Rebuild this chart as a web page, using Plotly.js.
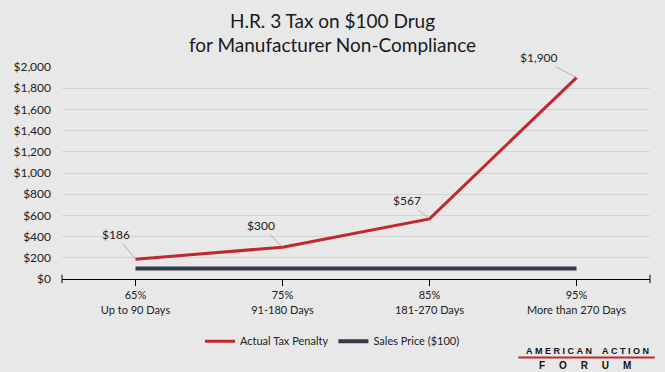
<!DOCTYPE html>
<html>
<head>
<meta charset="utf-8">
<script src="https://cdn.plot.ly/plotly-3.0.1.min.js"></script>
<style>html,body{margin:0;padding:0;background:#e8e8e8;}</style>
</head>
<body>
<div id="chart" style="width:665px;height:372px;"></div>
<script>
const categories = ["65%<br>Up to 90 Days", "75%<br>91-180 Days", "85%<br>181-270 Days", "95%<br>More than 270 Days"];
const taxPenalty = [186, 300, 567, 1900];
const salesPrice = [100, 100, 100, 100];
const penaltyLabels = ["$186", "$300", "$567", "$1,900"];
const labelOffsets = [[-20, -25], [-22, -22], [-23, -18], [-38, -20]];

const fontFam = "Lato, 'Open Sans', sans-serif";

const traces = [
  {x: categories, y: taxPenalty, type: "scatter", mode: "lines", name: "Actual Tax Penalty",
   line: {color: "#c1272d", width: 3}},
  {x: categories, y: salesPrice, type: "scatter", mode: "lines", name: "Sales Price ($100)",
   line: {color: "#353b4a", width: 4}}
];

const annotations = penaltyLabels.map((t, i) => ({
  x: categories[i], y: taxPenalty[i], xref: "x", yref: "y",
  text: t, showarrow: true, arrowhead: 0, arrowwidth: 0.7, arrowcolor: "#9a9a9a",
  ax: labelOffsets[i][0], ay: labelOffsets[i][1],
  font: {family: fontFam, size: 12, color: "#222"}
}));

annotations.push(
  {xref: "paper", yref: "paper", x: 0.893, y: -0.34, xanchor: "center", yanchor: "middle",
   text: "<b>A&nbsp;M&nbsp;E&nbsp;R&nbsp;I&nbsp;C&nbsp;A&nbsp;N&nbsp;&nbsp;&nbsp;&nbsp;A&nbsp;C&nbsp;T&nbsp;I&nbsp;O&nbsp;N</b>",
   showarrow: false, font: {family: "Liberation Sans, Arial, sans-serif", size: 9, color: "#111"}},
  {xref: "paper", yref: "paper", x: 0.889, y: -0.408, xanchor: "center", yanchor: "middle",
   text: "<b>F&nbsp;&nbsp;&nbsp;&nbsp;&nbsp;O&nbsp;&nbsp;&nbsp;&nbsp;&nbsp;R&nbsp;&nbsp;&nbsp;&nbsp;&nbsp;U&nbsp;&nbsp;&nbsp;&nbsp;&nbsp;M</b>",
   showarrow: false, font: {family: "Liberation Sans, Arial, sans-serif", size: 10, color: "#111"}}
);

const layout = {
  width: 665, height: 372,
  paper_bgcolor: "#e8e8e8", plot_bgcolor: "#e8e8e8",
  margin: {l: 62, r: 15, t: 67, b: 93},
  title: {text: "H.R. 3 Tax on $100 Drug<br>for Manufacturer Non-Compliance",
          font: {family: fontFam, size: 19, color: "#1a1a1a"}, x: 0.5, xanchor: "center", y: 0.926, yanchor: "top"},
  xaxis: {type: "category", showline: true, linecolor: "#000", linewidth: 1,
          ticks: "outside", ticklen: 6, tickcolor: "#000", showgrid: false, zeroline: false,
          range: [-0.5, 3.5],
          tickfont: {family: fontFam, size: 11, color: "#222"}},
  yaxis: {range: [0, 2000], dtick: 200, tickprefix: "$", tickformat: ",", showgrid: true,
          gridcolor: "#d4d4d4", gridwidth: 1, zeroline: false, showline: false, ticks: "",
          ticklabelstandoff: 10,
          tickfont: {family: fontFam, size: 12, color: "#222"}},
  showlegend: true,
  legend: {orientation: "h", x: 0.46, xanchor: "center", y: -0.225, yanchor: "top",
           font: {family: fontFam, size: 11, color: "#222"}, itemwidth: 30, bgcolor: "rgba(0,0,0,0)"},
  annotations: annotations,
  shapes: [
    {type: "line", xref: "paper", yref: "paper", x0: 0, x1: 0, y0: -0.02, y1: 0.02, line: {color: "#000", width: 1}},
    {type: "line", xref: "paper", yref: "paper", x0: 1, x1: 1, y0: -0.02, y1: 0.02, line: {color: "#000", width: 1}},
    {type: "line", xref: "paper", yref: "paper", x0: 0.776, x1: 1.008, y0: -0.37, y1: -0.37, line: {color: "#c1272d", width: 2}}
  ]
};

Plotly.newPlot("chart", traces, layout, {displayModeBar: false, staticPlot: true});
</script>
</body>
</html>
